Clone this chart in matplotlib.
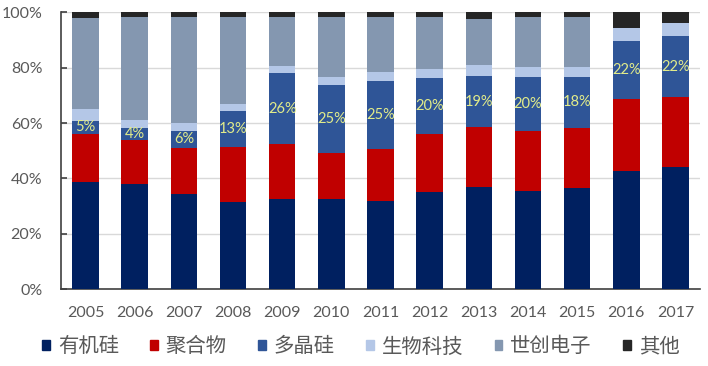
import matplotlib
matplotlib.use("Agg")
import matplotlib.pyplot as plt
from matplotlib.patches import Rectangle
import numpy as np

plt.rcParams['font.family'] = ['Lato', 'Noto Sans CJK SC', 'DejaVu Sans']

years = ['2005', '2006', '2007', '2008', '2009', '2010', '2011', '2012',
         '2013', '2014', '2015', '2016', '2017']
series_names = ['有机硅', '聚合物', '多晶硅', '生物科技', '世创电子', '其他']
organosilicon = [38.8, 38.0, 34.4, 31.6, 32.6, 32.6, 32.0, 35.2, 37.0, 35.6, 36.7, 42.8, 44.3]
polymer       = [17.2, 15.9, 16.7, 19.9, 19.7, 16.7, 18.5, 20.8, 21.5, 21.5, 21.6, 25.8, 25.2]
polysilicon   = [4.9, 4.2, 6.2, 12.9, 25.9, 24.6, 24.7, 20.4, 18.5, 19.7, 18.5, 21.2, 21.8]
biotech       = [4.1, 3.0, 2.6, 2.5, 2.5, 2.9, 3.1, 3.1, 3.9, 3.6, 3.6, 4.6, 4.7]
siltronic     = [32.8, 37.1, 38.5, 31.5, 17.5, 21.4, 19.9, 18.7, 16.6, 17.8, 17.8, 0.0, 0.0]
others        = [2.2, 1.8, 1.6, 1.6, 1.8, 1.8, 1.8, 1.8, 2.5, 1.8, 1.8, 5.6, 4.0]
poly_labels   = ['5%', '4%', '6%', '13%', '26%', '25%', '25%', '20%', '19%', '20%', '18%', '22%', '22%']

colors = ['#002060', '#C00000', '#2F5597', '#B4C7E7', '#8497B0', '#262626']
series = [organosilicon, polymer, polysilicon, biotech, siltronic, others]

fig = plt.figure(figsize=(7.08, 3.66), dpi=100)
ax = fig.add_axes([0.0862, 0.2096, 0.9025, 0.7568])

x = np.arange(len(years))
bottom = np.zeros(len(years))
for vals, c in zip(series, colors):
    v = np.array(vals)
    ax.bar(x, v, 0.54, bottom=bottom, color=c, zorder=3, linewidth=0)
    bottom += v

# labels on polysilicon segment
pb = np.array(organosilicon) + np.array(polymer)
for i, lab in enumerate(poly_labels):
    ax.text(x[i], pb[i] + polysilicon[i] / 2, lab, ha='center', va='center',
            color='#E2EC8A', fontsize=10.5, zorder=4)

ax.set_xlim(-0.5, len(years) - 0.5)
ax.set_ylim(0, 100)
ax.set_yticks([0, 20, 40, 60, 80, 100])
ax.set_yticklabels(['0%', '20%', '40%', '60%', '80%', '100%'])
ax.set_xticks(x)
ax.set_xticklabels(years)
ax.tick_params(axis='y', direction='in', length=4, width=1.2, color='#404040',
               labelsize=11.5, labelcolor='#595959', pad=13.5)
ax.tick_params(axis='x', length=0, labelsize=11.5, labelcolor='#595959', pad=12)
ax.yaxis.grid(True, color='#D9D9D9', linewidth=1, zorder=0)
ax.set_axisbelow(True)
for s in ['top', 'right']:
    ax.spines[s].set_visible(False)
for s in ['left', 'bottom']:
    ax.spines[s].set_color('#404040')
    ax.spines[s].set_linewidth(1.2)

handles = [Rectangle((0, 0), 1, 1, color=c) for c in colors]
leg = fig.legend(handles, series_names, loc='center', bbox_to_anchor=(0.5095, 0.052),
                 ncol=6, frameon=False, handlelength=0.39, handleheight=0.39,
                 handletextpad=0.39, columnspacing=1.52,
                 prop={'family': ['Noto Sans CJK SC', 'DejaVu Sans'], 'size': 14.7})
for t in leg.get_texts():
    t.set_color('#595959')

fig.savefig('out.png', dpi=100)
